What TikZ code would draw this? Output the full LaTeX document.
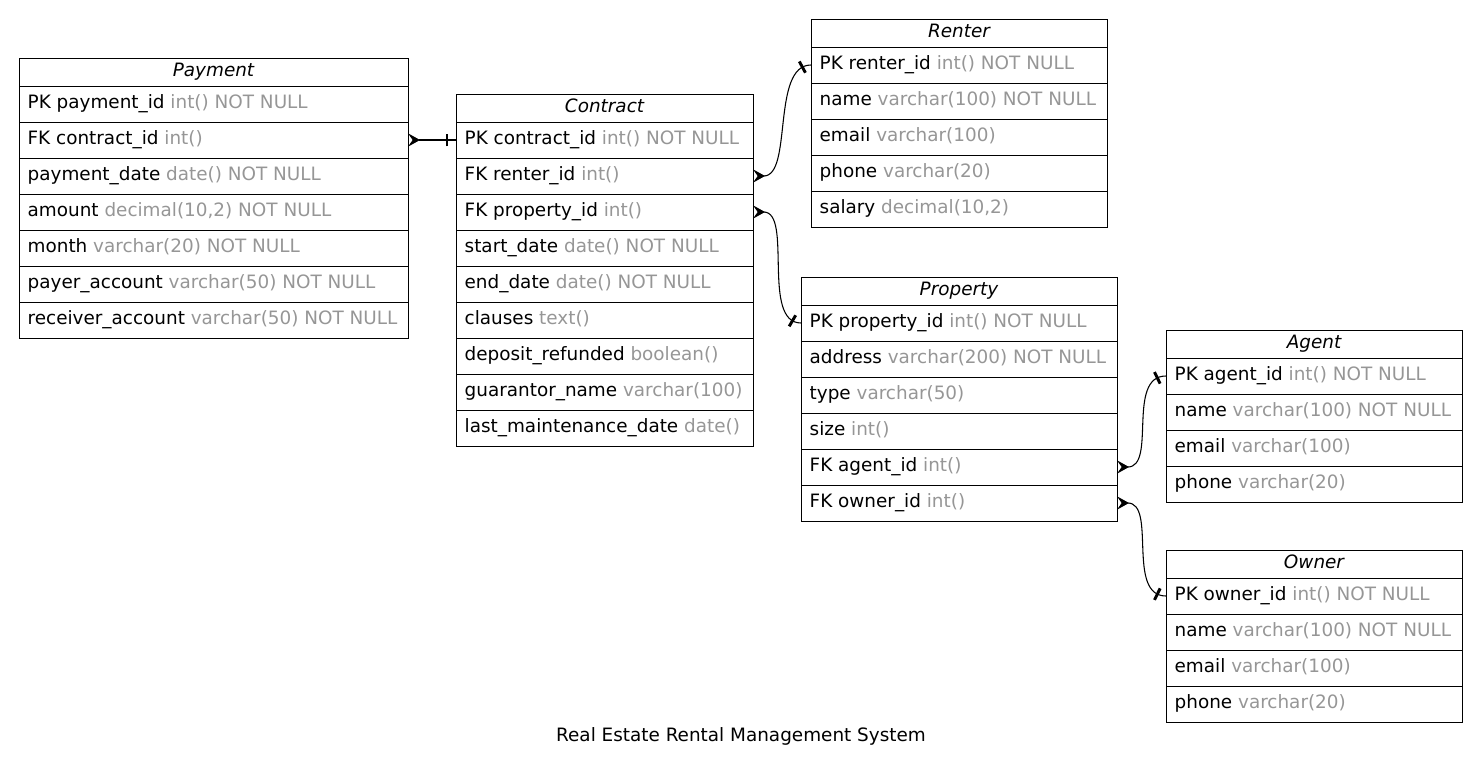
\documentclass[tikz,border=0pt]{standalone}
\usepackage{fontspec}
\setmainfont{DejaVu Sans}
\usetikzlibrary{positioning,arrows.meta,decorations.markings}
\definecolor{typegray}{RGB}{150,150,150}

\tikzset{
    header/.style={draw, line width=0.75pt, anchor=north west, outer sep=0pt, inner sep=0pt,
        minimum height=21pt, text height=10.5pt, text depth=3.75pt,
        font=\fontsize{13.8}{17}\selectfont\itshape},
    field/.style={draw, line width=0.75pt, anchor=north west, outer sep=0pt, inner xsep=6.5pt,
        inner ysep=0pt, minimum height=27pt, text height=10.5pt, text depth=3.75pt},
    fkline/.style={line width=0.8pt, {Stealth[reversed,length=9pt,width=10pt,inset=3.5pt]}-,
        postaction={decorate},
        decoration={markings, mark=at position -6.75pt with {\draw[-, line width=2.2pt] (0,-4.8pt) -- (0,4.8pt);}}}
}

% one table: name, x, y, width (px), title, rows key/type
\newcommand{\erdtable}[6]{
    \pgfmathsetmacro{\tabw}{#4*0.75}
    \pgfmathsetmacro{\textw}{#4*0.75-13}
    \node[header, minimum width=\tabw pt] (#1-0) at (#2,#3) {#5};
    \foreach \key/\type [count=\i] in {#6} {
        \node[field] (#1-\i) at (#2,{#3+28+36*(\i-1)})
            {\makebox[\textw pt][l]{\key\ \textcolor{typegray}{\type}}};
    }
}

\begin{document}
\begin{tikzpicture}[x=0.75pt, y=-0.75pt, font=\fontsize{13.8}{17}\selectfont]

    \useasboundingbox (0,0) rectangle (1481,771);

    % the tables
    \erdtable{payment}{19}{58}{389}{Payment}{PK payment\_id/int() NOT NULL, FK contract\_id/int(),
        payment\_date/date() NOT NULL, amount/{decimal(10,2) NOT NULL}, month/varchar(20) NOT NULL,
        payer\_account/varchar(50) NOT NULL, receiver\_account/varchar(50) NOT NULL}
    \erdtable{contract}{456}{94}{297}{Contract}{PK contract\_id/int() NOT NULL, FK renter\_id/int(),
        FK property\_id/int(), start\_date/date() NOT NULL, end\_date/date() NOT NULL,
        clauses/text(), deposit\_refunded/boolean(), guarantor\_name/varchar(100),
        last\_maintenance\_date/date()}
    \erdtable{renter}{811}{19}{296}{Renter}{PK renter\_id/int() NOT NULL, name/varchar(100) NOT NULL,
        email/varchar(100), phone/varchar(20), salary/{decimal(10,2)}}
    \erdtable{property}{801}{277}{316}{Property}{PK property\_id/int() NOT NULL,
        address/varchar(200) NOT NULL, type/varchar(50), size/int(), FK agent\_id/int(), FK owner\_id/int()}
    \erdtable{agent}{1166}{330}{296}{Agent}{PK agent\_id/int() NOT NULL, name/varchar(100) NOT NULL,
        email/varchar(100), phone/varchar(20)}
    \erdtable{owner}{1166}{550}{296}{Owner}{PK owner\_id/int() NOT NULL, name/varchar(100) NOT NULL,
        email/varchar(100), phone/varchar(20)}

    % foreign keys
    \draw[fkline] (payment-2.east) -- (contract-1.west);
    \draw[fkline] (contract-2.east) .. controls +(40,0) and +(-40,0) .. (renter-1.west);
    \draw[fkline] (contract-3.east) .. controls +(40,0) and +(-40,0) .. (property-1.west);
    \draw[fkline] (property-5.east) .. controls +(40,0) and +(-40,0) .. (agent-1.west);
    \draw[fkline] (property-6.east) .. controls +(40,0) and +(-40,0) .. (owner-1.west);

    \node (caption) at (741,736) {Real Estate Rental Management System};

\end{tikzpicture}
\end{document}
